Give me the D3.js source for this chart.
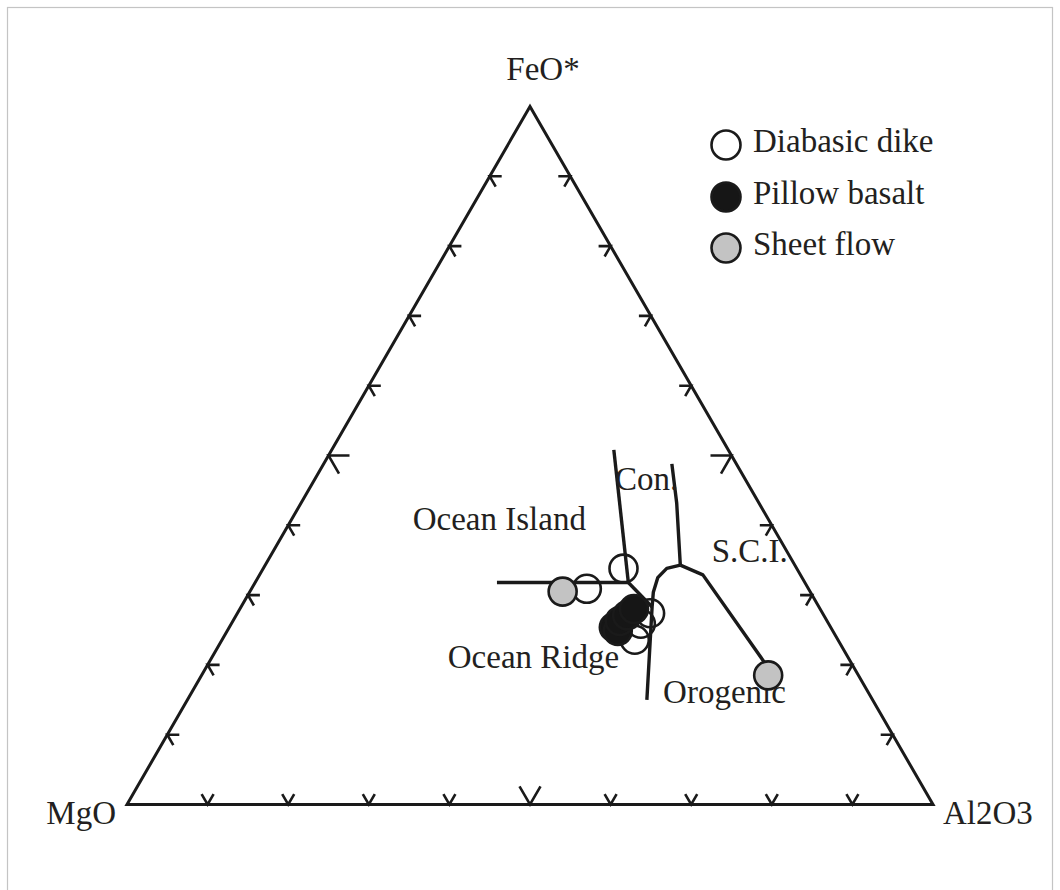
<!DOCTYPE html>
<html>
<head>
<meta charset="utf-8">
<script src="https://cdn.jsdelivr.net/npm/d3@7"></script>
<style>
  html, body { margin: 0; padding: 0; background: #fff; }
  svg { display: block; }
  text { font-family: "Liberation Serif", "Times New Roman", serif; fill: #231f20; }
</style>
</head>
<body>
<svg id="chart" width="1060" height="890"></svg>
<script>
// Compositions are [MgO, FeO*, Al2O3] in percent.
const axisNames = ["MgO", "FeO*", "Al2O3"];
const categories = ["Diabasic dike", "Pillow basalt", "Sheet flow"];

const diabasicDike = [
  [27.5, 30.9, 41.6],
  [21.5, 33.8, 44.7],
  [21.4, 27.4, 51.2],
  [23.3, 25.9, 50.8],
  [25.2, 23.6, 51.2]
];
const pillowBasalt = [
  [26.9, 25.4, 47.7],
  [26.7, 24.9, 48.5],
  [25.7, 26.3, 48.0],
  [24.4, 27.1, 48.5],
  [23.1, 28.0, 48.9]
];
const sheetFlow = [
  [30.7, 30.5, 38.8],
  [11.2, 18.5, 70.3]
];

// Tectonic field boundaries (Pearce et al., 1977)
const boundaryOceanIslandCon = [[14.2, 50.8, 35.0], [21.9, 31.8, 46.3]];
const boundaryOceanIslandRidge = [[38.2, 31.8, 30.0], [21.9, 31.8, 46.3]];
const boundaryJunctionLink = [[21.9, 31.8, 46.3], [20.7, 28.3, 51.0]];
const boundaryRidgeOrogenic = [
  [28.0, 15.0, 57.0], [20.7, 28.3, 51.0], [19.5, 30.4, 50.1],
  [17.9, 32.5, 49.6], [16.1, 33.8, 50.0], [14.2, 34.3, 51.5]
];
const boundaryConSCI = [[14.2, 34.3, 51.5], [10.2, 43.2, 46.6], [8.0, 48.8, 43.2]];
const boundarySCIOrogenic = [[14.2, 34.3, 51.5], [12.1, 32.9, 55.0], [10.7, 20.0, 69.3]];

const fieldNames = ["Ocean Island", "Ocean Ridge", "Con.", "S.C.I.", "Orogenic"];
const fieldAnchors = [
  [44.9, 39.3, 15.8],
  [50.4, 19.6, 30.0],
  [16.9, 45.1, 38.0],
  [10.1, 34.7, 55.2],
  [26.2, 14.5, 59.2]
];

const tickValues = [10, 20, 30, 40, 50, 60, 70, 80, 90];

// ---- layout ----
const svg = d3.select("#chart");
const ink = "#1a1a1a";

// horizontal position (Al2O3 + FeO*/2) and height (FeO*) scales
const xScale = d3.scaleLinear().domain([0, 1]).range([127, 933]);
const yScale = d3.scaleLinear().domain([0, 1]).range([804.5, 106.5]);

function project(c) {
  const s = c[0] + c[1] + c[2];
  const f = c[1] / s, a = c[2] / s;
  return [xScale(a + f / 2), yScale(f)];
}

// frame
svg.append("rect")
  .attr("x", 7.5).attr("y", 7.5)
  .attr("width", 1045).attr("height", 890)
  .attr("fill", "none").attr("stroke", "#c4c4c4").attr("stroke-width", 1.2);

const line = d3.line().x(d => project(d)[0]).y(d => project(d)[1]);

// triangle outline
const corners = [[100, 0, 0], [0, 0, 100], [0, 100, 0]];
svg.append("path")
  .attr("d", line(corners) + "Z")
  .attr("fill", "none").attr("stroke", ink)
  .attr("stroke-width", 3).attr("stroke-linejoin", "miter");

// chevron ticks on each edge
const c60 = 0.5, s60 = Math.sqrt(3) / 2;
const edges = [
  { pos: t => [100 - t, t, 0], arms: [[1, 0], [c60, s60]] },     // MgO–FeO*
  { pos: t => [0, t, 100 - t], arms: [[-1, 0], [-c60, s60]] },   // FeO*–Al2O3
  { pos: t => [100 - t, 0, t], arms: [[-c60, -s60], [c60, -s60]] } // MgO–Al2O3
];
const tickG = svg.append("g");
edges.forEach(e => {
  tickValues.forEach(t => {
    const p = project(e.pos(t));
    const len = t === 50 ? 21 : 12;
    const pts = [
      [p[0] + e.arms[0][0] * len, p[1] + e.arms[0][1] * len],
      p,
      [p[0] + e.arms[1][0] * len, p[1] + e.arms[1][1] * len]
    ];
    tickG.append("path")
      .attr("d", d3.line()(pts))
      .attr("fill", "none").attr("stroke", ink)
      .attr("stroke-width", 2.6).attr("stroke-linejoin", "miter");
  });
});

// field boundaries
const boundaries = [
  boundaryOceanIslandCon, boundaryOceanIslandRidge, boundaryJunctionLink,
  boundaryRidgeOrogenic, boundaryConSCI, boundarySCIOrogenic
];
svg.append("g").selectAll("path").data(boundaries).join("path")
  .attr("d", line)
  .attr("fill", "none").attr("stroke", ink)
  .attr("stroke-width", 3.4).attr("stroke-linejoin", "round");

// field labels
svg.append("g").selectAll("text").data(fieldNames).join("text")
  .attr("x", (d, i) => project(fieldAnchors[i])[0])
  .attr("y", (d, i) => project(fieldAnchors[i])[1])
  .attr("font-size", 33)
  .text(d => d);

// samples
const styles = {
  "Diabasic dike": { fill: "none" },
  "Pillow basalt": { fill: "#161616" },
  "Sheet flow": { fill: "#c3c3c3" }
};
const seriesData = [diabasicDike, pillowBasalt, sheetFlow];
seriesData.forEach((pts, i) => {
  svg.append("g").selectAll("circle").data(pts).join("circle")
    .attr("cx", d => project(d)[0])
    .attr("cy", d => project(d)[1])
    .attr("r", 14)
    .attr("fill", styles[categories[i]].fill)
    .attr("stroke", ink).attr("stroke-width", 2.6);
});

// vertex labels
const apexTop = project([0, 100, 0]);
const apexLeft = project([100, 0, 0]);
const apexRight = project([0, 0, 100]);
svg.append("text").attr("x", apexTop[0] + 13).attr("y", apexTop[1] - 27)
  .attr("text-anchor", "middle").attr("font-size", 33).text(axisNames[1]);
svg.append("text").attr("x", apexLeft[0] - 11).attr("y", apexLeft[1] + 19)
  .attr("text-anchor", "end").attr("font-size", 33).text(axisNames[0]);
svg.append("text").attr("x", apexRight[0] + 10).attr("y", apexRight[1] + 19)
  .attr("text-anchor", "start").attr("font-size", 33).text(axisNames[2]);

// legend
const legend = svg.append("g").attr("transform", "translate(726,145)");
const rows = legend.selectAll("g").data(categories).join("g")
  .attr("transform", (d, i) => `translate(0,${[0, 52, 103][i]})`);
rows.append("circle")
  .attr("r", 14.5)
  .attr("fill", d => styles[d].fill === "none" ? "#fff" : styles[d].fill)
  .attr("stroke", ink).attr("stroke-width", 2.6);
rows.append("text")
  .attr("x", 27).attr("y", 7)
  .attr("font-size", 33)
  .text(d => d);
</script>
</body>
</html>
